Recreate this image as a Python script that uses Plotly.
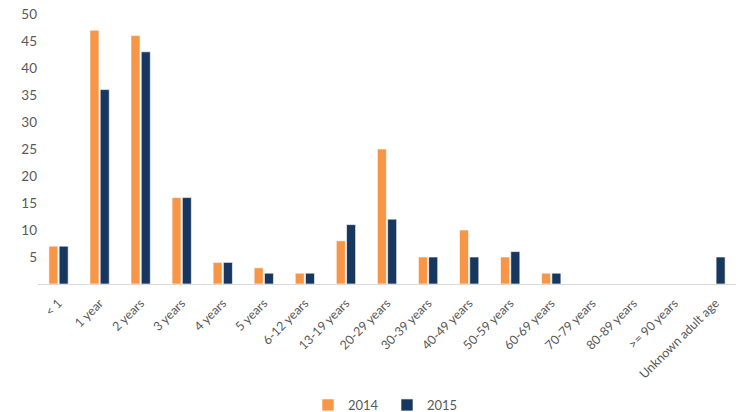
import plotly.graph_objects as go

# Age groups on the category axis
age_groups = ["< 1", "1 year", "2 years", "3 years", "4 years", "5 years",
              "6-12 years", "13-19 years", "20-29 years", "30-39 years",
              "40-49 years", "50-59 years", "60-69 years", "70-79 years",
              "80-89 years", ">= 90 years", "Unknown adult age"]

# Case counts per year
cases_2014 = [7, 47, 46, 16, 4, 3, 2, 8, 25, 5, 10, 5, 2, 0, 0, 0, 0]
cases_2015 = [7, 36, 43, 16, 4, 2, 2, 11, 12, 5, 5, 6, 2, 0, 0, 0, 5]

y_ticks = [5, 10, 15, 20, 25, 30, 35, 40, 45, 50]

fig = go.Figure()
fig.add_trace(go.Bar(
    x=age_groups, y=cases_2014, name="2014",
    marker=dict(color="#F79646", line=dict(color="rgba(255,255,255,0.6)", width=1)),
))
fig.add_trace(go.Bar(
    x=age_groups, y=cases_2015, name="2015",
    marker=dict(color="#17375E", line=dict(color="rgba(255,255,255,0.6)", width=1)),
))

fig.update_layout(
    width=742, height=412,
    margin=dict(l=38, r=6, t=10, b=128),
    paper_bgcolor="white", plot_bgcolor="white",
    barmode="group", bargap=0.5, bargroupgap=0.12,
    font=dict(family="Lato, Open Sans, sans-serif", color="#595959", size=13),
    showlegend=True,
    legend=dict(orientation="h", x=0.5, xanchor="center",
                yref="container", y=0.017, yanchor="middle",
                font=dict(size=13, color="#595959"),
                itemwidth=30, entrywidth=34, entrywidthmode="pixels",
                traceorder="normal"),
    xaxis=dict(tickangle=-45, showline=True, linecolor="#D9D9D9", linewidth=1,
               ticks="", showgrid=False, tickfont=dict(size=12.5),
               ticklabelstandoff=6),
    yaxis=dict(range=[0, 50], tickvals=y_ticks, showgrid=False, zeroline=False,
               showline=False, ticks="", tickfont=dict(size=13.5)),
)

fig.write_html("out.html")
